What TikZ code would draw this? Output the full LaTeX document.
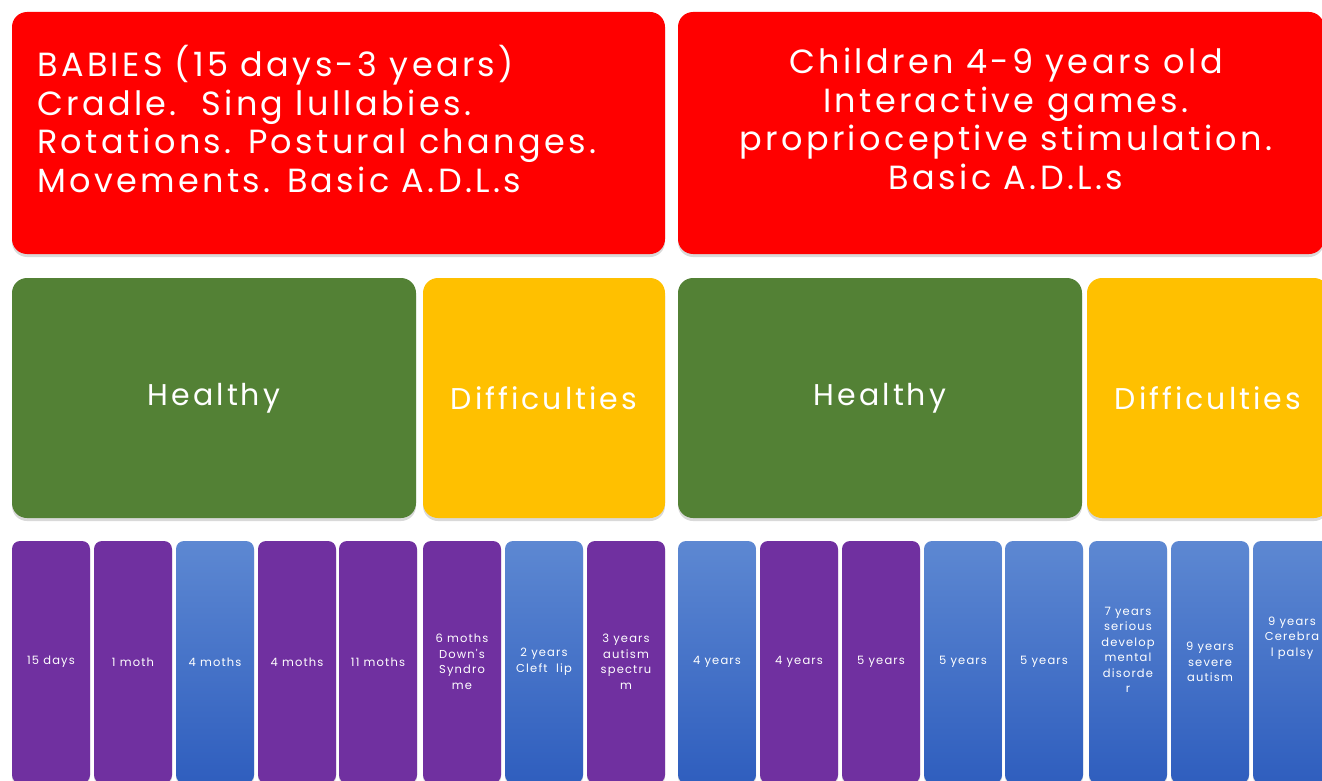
\documentclass[tikz,border=0pt]{standalone}
\usepackage{fontspec}
\setmainfont{Poppins}
\newfontfamily\widefont[LetterSpace=10]{Poppins}
\usetikzlibrary{shadows}
\definecolor{hdrred}{HTML}{FF0000}
\definecolor{hltgreen}{HTML}{538135}
\definecolor{difyellow}{HTML}{FFC000}
\definecolor{colpurple}{HTML}{7030A0}
\definecolor{coltop}{HTML}{5D88D2}
\definecolor{colbot}{HTML}{2F5EBE}
\begin{document}
\begin{tikzpicture}[x=1pt,y=-1pt,
  box/.style={rounded corners=15pt, text=white, inner sep=0pt,
    drop shadow={shadow xshift=0pt, shadow yshift=-3pt, opacity=.3}},
  hdr/.style={box, fill=hdrred, minimum width=653pt, minimum height=242pt},
  hdrtext/.style={text=white, inner sep=0pt, font=\widefont\fontsize{33.5}{38.5}\selectfont},
  hlt/.style={box, fill=hltgreen, minimum width=404pt, minimum height=240pt,
    font=\widefont\fontsize{30}{32}\selectfont},
  dif/.style={box, fill=difyellow, minimum width=242pt, minimum height=240pt,
    font=\widefont\fontsize{30}{32}\selectfont},
  col/.style={rounded corners=8pt, text=white, inner sep=0pt, align=center,
    minimum width=78pt, minimum height=242pt, font=\widefont\fontsize{11.5}{15.5}\selectfont,
    drop shadow={shadow xshift=0pt, shadow yshift=-2pt, opacity=.3}},
  pcol/.style={col, fill=colpurple},
  bcol/.style={col, top color=coltop, bottom color=colbot},
  coltext/.style={text=white, inner sep=0pt, align=center, font=\widefont\fontsize{11.5}{15.5}\selectfont}]
\useasboundingbox (0,0) rectangle (1322,781);
\clip (0,0) rectangle (1322,781);
% headers
\node[hdr] (hdr0) at (338.5,133) {};
\node[hdrtext, anchor=west, align=left] (h0) at (37,119) {BABIES (15 days-3 years)\\Cradle.\ \ Sing lullabies.\\Rotations. Postural changes.\\Movements. Basic A.D.L.s};
\node[hdr, minimum width=646pt] (hdr1) at (1001,133) {};
\node[hdrtext, align=center] (h1) at (1006,119) {Children 4-9 years old\\Interactive games.\\proprioceptive stimulation.\\Basic A.D.L.s};
% groups
\node[hlt] (hlt0) at (214,398) {Healthy};
\node[dif] (dif0) at (544,398) {Difficulties};
\node[hlt] (hlt1) at (880,398) {Healthy};
\node[dif] (dif1) at (1208,398) {Difficulties};
% babies
\node[pcol] (c0) at (51,662) {15 days};
\node[pcol] (c1) at (133,662) {1 moth};
\node[bcol] (c2) at (215,662) {4 moths};
\node[pcol] (c3) at (297,662) {4 moths};
\node[pcol] (c4) at (378,662) {11 moths};
\node[pcol] (c5) at (462,662) {6 moths\\Down's\\Syndro\\me};
\node[bcol] (c6) at (544,662) {2 years\\Cleft\ \ lip};
\node[pcol] (c7) at (626,662) {3 years\\autism\\spectru\\m};
% children
\node[bcol] (c8) at (717,662) {4 years};
\node[pcol] (c9) at (799,662) {4 years};
\node[pcol] (c10) at (881,662) {5 years};
\node[bcol] (c11) at (963,662) {5 years};
\node[bcol] (c12) at (1044,662) {5 years};
\node[bcol] (c13) at (1128,662) {};
\node[coltext] (t13) at (1128,650) {7 years\\serious\\develop\\mental\\disorde\\r};
\node[bcol] (c14) at (1210,662) {9 years\\severe\\autism};
\node[bcol] (c15) at (1292,662) {};
\node[coltext] (t15) at (1292,638) {9 years\\Cerebra\\l palsy};
\end{tikzpicture}
\end{document}
